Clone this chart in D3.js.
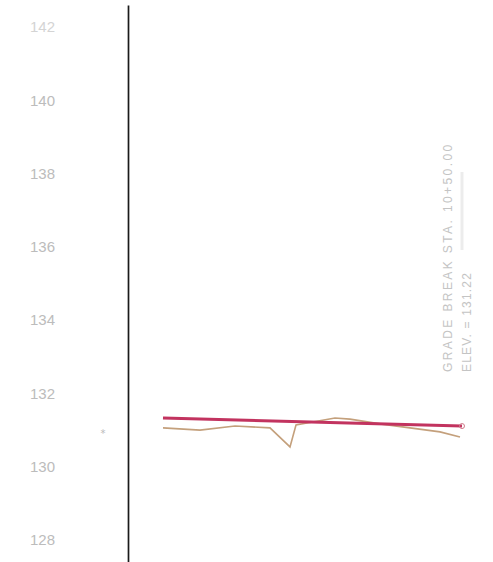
<!DOCTYPE html>
<html><head><meta charset="utf-8">
<script src="https://cdn.jsdelivr.net/npm/d3@7"></script>
<style>html,body{margin:0;padding:0;background:#fff;}svg{display:block;}</style>
</head><body>
<svg id="c" width="493" height="562"></svg>
<script>
const yTicks = [128, 130, 132, 134, 136, 138, 140, 142];
const designStations = [0, 299];
const designElev = [131.33, 131.11];
const existStations = [0, 37, 72, 107, 127, 133, 172, 187, 217, 247, 277, 297];
const existElev = [131.06, 131.00, 131.11, 131.06, 130.54, 131.14, 131.33, 131.30, 131.17, 131.06, 130.95, 130.81];
const noteLines = ["GRADE BREAK STA. 10+50.00", "ELEV. = 131.22"];

const svg = d3.select("#c");
const x = d3.scaleLinear().domain([0, 299]).range([163, 462]);
const y = d3.scaleLinear().domain([127.40, 142.60]).range([562, 5]);

const ax = svg.append("g").attr("transform", "translate(128,0)")
  .call(d3.axisLeft(y).tickValues(yTicks).tickSize(0).tickPadding(73).tickFormat(d3.format("d")));
ax.select(".domain").attr("stroke", "#1a1a1a").attr("stroke-width", 1.7);
ax.selectAll("text").attr("fill", "#bcbcbc").attr("font-family", "Liberation Sans, Arial, sans-serif")
  .attr("font-size", 15).attr("font-weight", 300);
ax.selectAll("text").filter(d => d === 142).attr("fill", "#d4d4d4");

// small mark left of axis
svg.append("text").attr("x", 103).attr("y", 437).attr("fill", "#bbb")
  .attr("font-size", 10).attr("font-family", "DejaVu Sans").attr("text-anchor", "middle").text("*");

const line = d3.line().x(d => x(d[0])).y(d => y(d[1]));

svg.append("path").datum(existStations.map((s, i) => [s, existElev[i]]))
  .attr("d", line).attr("fill", "none").attr("stroke", "#c4a07c").attr("stroke-width", 1.6);

svg.append("path").datum(designStations.map((s, i) => [s, designElev[i]]))
  .attr("d", line).attr("fill", "none").attr("stroke", "#c2335f").attr("stroke-width", 3);

svg.append("circle").attr("cx", x(designStations[1])).attr("cy", y(designElev[1]))
  .attr("r", 2.5).attr("fill", "none").attr("stroke", "#d07a8a").attr("stroke-width", 1);

// note text, rotated
const note = svg.append("g").attr("font-family", "Liberation Sans, Arial, sans-serif")
  .attr("font-size", 12).attr("fill", "#c4c4c4").attr("letter-spacing", 2.4);
note.append("text").attr("transform", "translate(452,372) rotate(-90)").text(noteLines[0]);
note.append("text").attr("transform", "translate(471,372) rotate(-90)").attr("letter-spacing", 1.2).text(noteLines[1]);
svg.append("line").attr("x1", 462).attr("x2", 462).attr("y1", 172).attr("y2", 250)
  .attr("stroke", "#ececec").attr("stroke-width", 3);
</script>
</body></html>
